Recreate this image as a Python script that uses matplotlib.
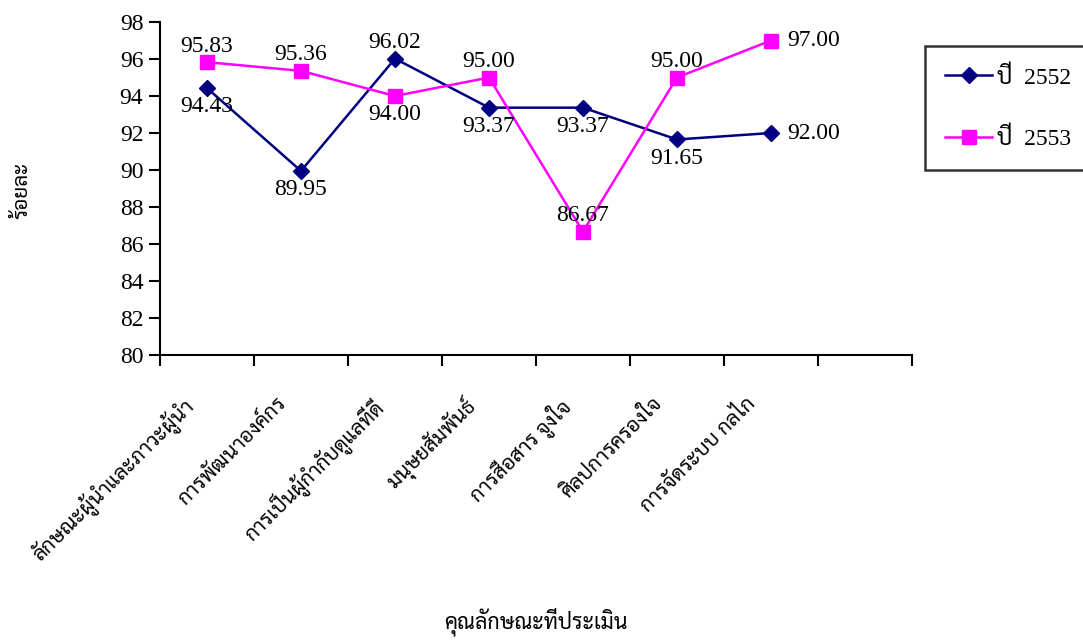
import matplotlib
matplotlib.use("Agg")
import matplotlib.pyplot as plt
from matplotlib import font_manager
import numpy as np

categories = ["ลักษณะผู้นำและภาวะผู้นำ", "การพัฒนาองค์กร", "การเป็นผู้กำกับดูแลที่ดี",
              "มนุษยสัมพันธ์", "การสื่อสาร จูงใจ", "ศิลปการครองใจ", "การจัดระบบ กลไก"]
y2552 = [94.43, 89.95, 96.02, 93.37, 93.37, 91.65, 92.00]
y2553 = [95.83, 95.36, 94.00, 95.00, 86.67, 95.00, 97.00]
pos2552 = ["below", "below", "above", "below", "below", "below", "right"]
pos2553 = ["above", "above", "below", "above", "above", "above", "right"]
series_names = ["ปี  2552", "ปี  2553"]
yticks = [80, 82, 84, 86, 88, 90, 92, 94, 96, 98]

available = {f.name for f in font_manager.fontManager.ttflist}
thai_font = next((n for n in ["Sarabun", "Noto Serif Thai", "Taviraj", "Trirong",
                              "Noto Sans Thai", "Athiti"] if n in available), "DejaVu Sans")
latin = next((n for n in ["Liberation Serif", "Times New Roman", "DejaVu Serif"] if n in available), "DejaVu Serif")
FAM = [latin, thai_font, 'DejaVu Sans']
plt.rcParams['font.family'] = FAM

fig = plt.figure(figsize=(10.83, 6.4), dpi=100)
ax = fig.add_axes([0.1477, 0.4453, 0.8421 - 0.1477, 0.9656 - 0.4453])

x = np.arange(len(categories)) + 0.5
ax.plot(x, y2552, color="#000080", lw=1.8, marker="D", ms=8, label=series_names[0], zorder=3)
ax.plot(x, y2553, color="#FF00FF", lw=1.8, marker="s", ms=10, label=series_names[1], zorder=3)

FS = 17

def annotate(xs, ys, poss):
    for xi, yi, p in zip(xs, ys, poss):
        txt = f"{yi:.2f}"
        if p == "above":
            ax.annotate(txt, (xi, yi), xytext=(0, 4), textcoords="offset points",
                        ha="center", va="bottom", fontsize=FS, zorder=4)
        elif p == "below":
            ax.annotate(txt, (xi, yi), xytext=(0, -6), textcoords="offset points",
                        ha="center", va="top", fontsize=FS, zorder=4)
        else:
            ax.annotate(txt, (xi, yi), xytext=(12, 0), textcoords="offset points",
                        ha="left", va="center", fontsize=FS, zorder=4)

annotate(x, y2552, pos2552)
annotate(x, y2553, pos2553)

ax.set_xlim(0, len(categories) + 1)
ax.set_ylim(80, 98)
ax.set_yticks(yticks)
ax.set_yticklabels([str(v) for v in yticks], fontsize=FS)
ax.set_xticks(np.arange(0, len(categories) + 2))
ax.set_xticklabels([])
ax.tick_params(axis="both", direction="out", length=8, width=1.5)
ax.tick_params(axis="y", pad=4)
for s in ["top", "right"]:
    ax.spines[s].set_visible(False)
for s in ["left", "bottom"]:
    ax.spines[s].set_linewidth(1.5)

for xi, c in zip(x, categories):
    ax.annotate(c, (xi, 0), xycoords=("data", "axes fraction"),
                xytext=(-18, -28), textcoords="offset points",
                rotation=45, ha="right", va="top", rotation_mode="anchor", fontsize=15)

fig.text(0.495, 0.006, "คุณลักษณะที่ประเมิน", ha="center", va="bottom", fontsize=15.5)
fig.text(0.021, 0.703, "ร้อยละ", ha="center", va="center", rotation=90, fontsize=15)

leg = ax.legend(loc="upper left", bbox_to_anchor=(925 / 1083, 1 - 46 / 640, 0.2, 0),
                bbox_transform=fig.transFigure, mode="expand", fontsize=FS,
                frameon=True, fancybox=False, edgecolor="black", borderpad=0.85,
                labelspacing=1.65, handlelength=2.0, handletextpad=0.2, borderaxespad=0)
leg.get_frame().set_linewidth(1.8)

fig.savefig("out.png", dpi=100)
